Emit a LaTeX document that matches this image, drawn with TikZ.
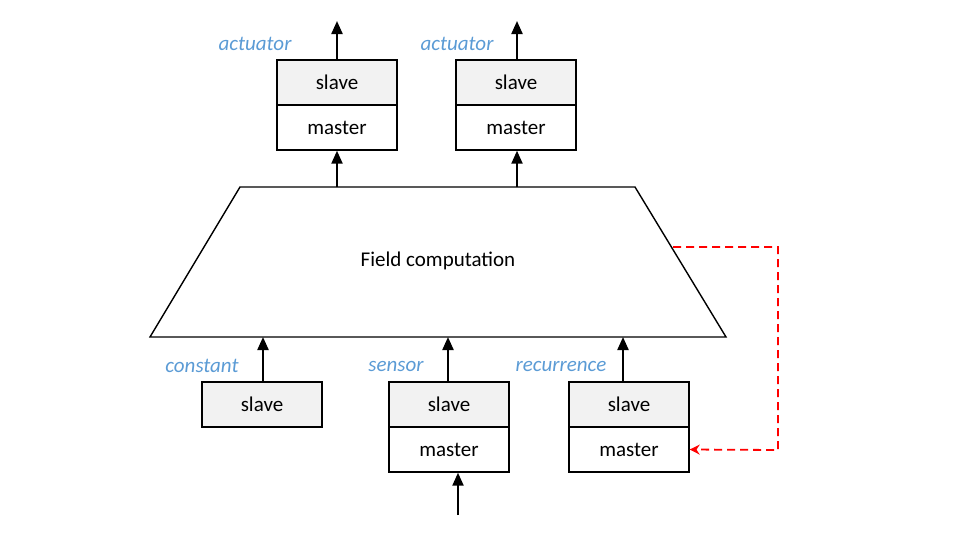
\documentclass[tikz,border=0pt]{standalone}
\usepackage{fontspec}
\setmainfont{Carlito}
\usetikzlibrary{arrows.meta,positioning}
\definecolor{lblblue}{RGB}{91,155,213}
\definecolor{slavefill}{RGB}{242,242,242}
\tikzset{
  box/.style={draw=black, line width=1.4pt, minimum width=120pt, minimum height=45pt, inner sep=0pt, font=\fontsize{21}{24}\selectfont},
  slavebox/.style={box, fill=slavefill},
  masterbox/.style={box, fill=white},
  lbl/.style={text=lblblue, font=\fontsize{21}{24}\selectfont\itshape, inner sep=0pt},
  arr/.style={line width=2.2pt, -{Triangle[length=13pt,width=11pt]}},
  redarr/.style={red, line width=1.8pt, dash pattern=on 8pt off 5pt, -{Stealth[length=10pt,width=10pt]}},
}
\begin{document}
\begin{tikzpicture}[x=1pt,y=-1pt]
\useasboundingbox (0,0) rectangle (976,541);
% trapezoid
\coordinate (tl) at (240,187);
\coordinate (tr) at (635,187);
\coordinate (br) at (726,337);
\coordinate (bl) at (150,337);
\draw[line width=1.4pt, fill=white] (tl) -- (tr) -- (br) -- (bl) -- cycle;
\node[font=\fontsize{21}{24}\selectfont] (fc) at (438,261) {Field computation};
% top boxes
\node[slavebox] (s1) at (337,82.5) {slave};
\node[masterbox] (m1) at (337,127.5) {master};
\node[slavebox] (s2) at (516,82.5) {slave};
\node[masterbox] (m2) at (516,127.5) {master};
\node[lbl] (a1) at (255,44) {actuator};
\node[lbl] (a2) at (457,44) {actuator};
\coordinate (t1) at (337,187);
\coordinate (t2) at (517,187);
\coordinate (o1) at (337,21);
\coordinate (o2) at (517,21);
\draw[arr] (t1) -- (t1 |- m1.south);
\draw[arr] (t2) -- (t2 |- m2.south);
\draw[arr] (o1 |- s1.north) -- (o1);
\draw[arr] (o2 |- s2.north) -- (o2);
% bottom boxes
\node[slavebox] (cs) at (262,404.5) {slave};
\node[slavebox] (ss) at (449,404.5) {slave};
\node[masterbox] (sm) at (449,449.5) {master};
\node[slavebox] (rs) at (629,404.5) {slave};
\node[masterbox] (rm) at (629,449.5) {master};
\node[lbl] (lc) at (202,366) {constant};
\node[lbl] (ls) at (396,366) {sensor};
\node[lbl] (lr) at (561,366) {recurrence};
\coordinate (b1) at (263,337);
\coordinate (b2) at (448,337);
\coordinate (b3) at (623,337);
\draw[arr] (cs.north -| b1) -- (b1);
\draw[arr] (ss.north -| b2) -- (b2);
\draw[arr] (rs.north -| b3) -- (b3);
\coordinate (in) at (458,515);
\draw[arr] (in) -- (in |- sm.south);
% red feedback
\coordinate (rf) at (673,247);
\coordinate (rc1) at (778,247);
\coordinate (rc2) at (778,450);
\draw[redarr] (rf) -- (rc1) -- (rc2) -- (rm.east);
\end{tikzpicture}
\end{document}
